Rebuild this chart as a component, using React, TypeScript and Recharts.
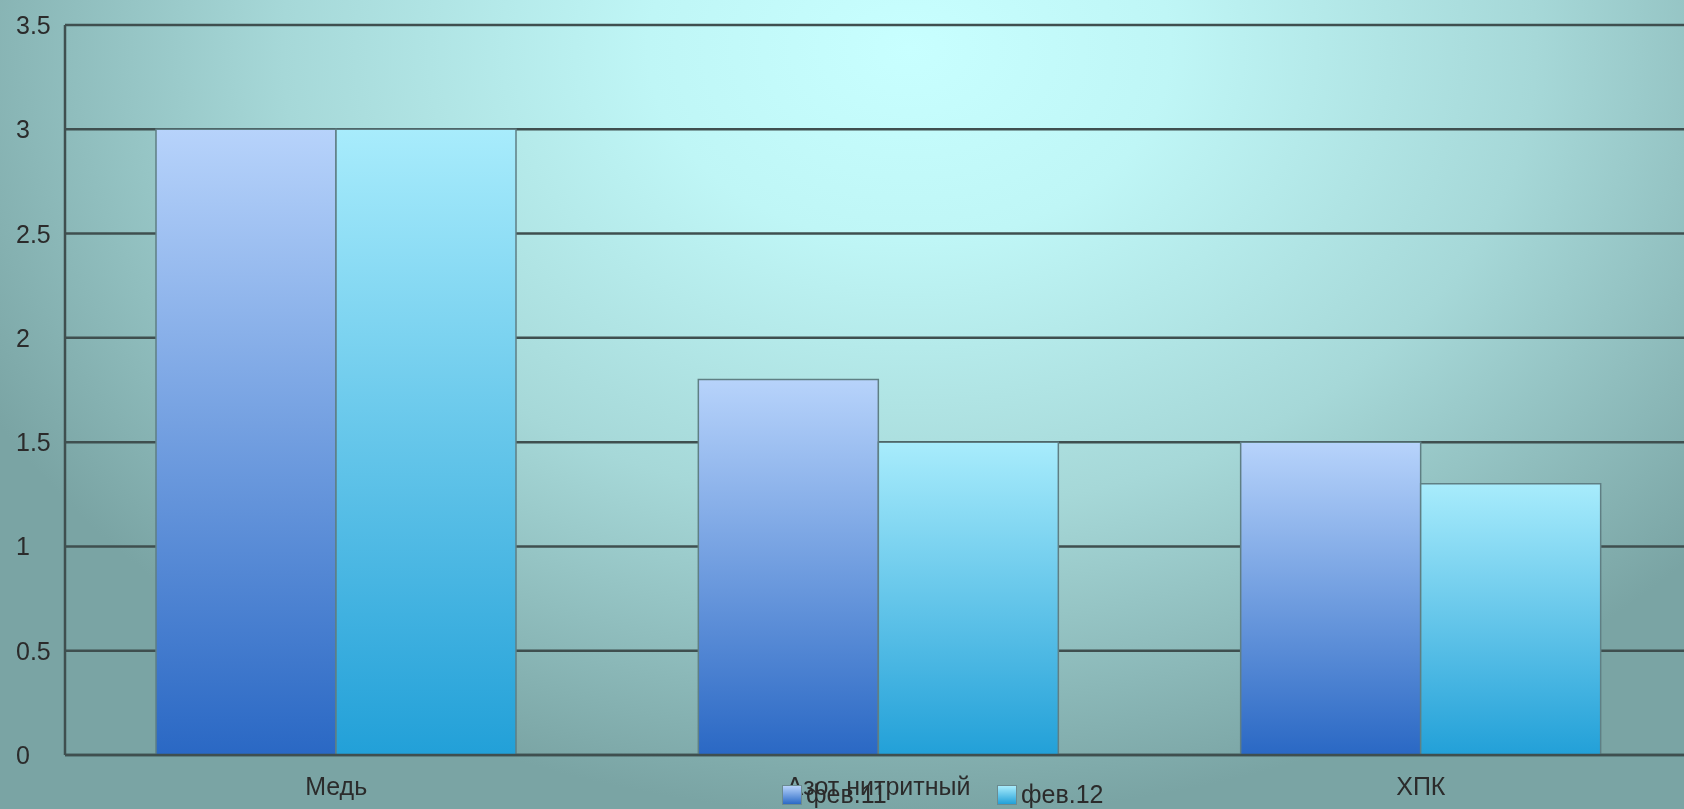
import React from 'react';
import { BarChart, Bar, XAxis, YAxis, CartesianGrid, Legend } from 'recharts';

const categories = ['Медь', 'Азот нитритный', 'ХПК'];
const feb11 = [3, 1.8, 1.5];
const feb12 = [3, 1.5, 1.3];
const seriesNames = ['фев.11', 'фев.12'];
const yTicks = [0, 0.5, 1, 1.5, 2, 2.5, 3, 3.5];

const data = categories.map((c, i) => ({ name: c, s1: feb11[i], s2: feb12[i] }));

const FONT = '"Liberation Sans", Arial, sans-serif';
const TEXT = '#2b2b2b';

const YTick = (props: any) => {
  const { y, payload } = props;
  return (
    <text x={16} y={y} dominantBaseline="central" textAnchor="start" fill={TEXT} fontSize={25} fontFamily={FONT}>
      {payload.value}
    </text>
  );
};

const XTick = (props: any) => {
  const { x, payload } = props;
  return (
    <text x={x} y={786} dominantBaseline="central" textAnchor="middle" fill={TEXT} fontSize={25} fontFamily={FONT}>
      {payload.value}
    </text>
  );
};

const LegendContent = () => (
  <div style={{ display: 'flex', alignItems: 'center', fontFamily: FONT, fontSize: 25, color: TEXT }}>
    {seriesNames.map((n, i) => (
      <div key={n} style={{ display: 'flex', alignItems: 'center', width: i === 0 ? 215 : 'auto' }}>
        <div
          style={{
            width: 18,
            height: 18,
            marginRight: 4,
            border: '1px solid #6b8b90',
            background: i === 0 ? 'linear-gradient(#b7d3fb, #2b6ac6)' : 'linear-gradient(#a8ecfc, #22a0d8)',
          }}
        />
        <span>{n}</span>
      </div>
    ))}
  </div>
);

export default function App() {
  return (
    <div
      style={{
        position: 'fixed',
        left: 0,
        top: 0,
        width: 1684,
        height: 809,
        overflow: 'hidden',
        background:
          'radial-gradient(ellipse 62% 95% at 54% 6%, #c8ffff 0%, #bff6f6 25%, #a6d8d8 60%, #7aa4a4 100%)',
      }}
    >
      <BarChart
        width={1692}
        height={809}
        data={data}
        margin={{ top: 25, right: 0, left: 0, bottom: 0 }}
        barGap={0}
        barCategoryGap={91}
      >
        <defs>
          <linearGradient id="g1" x1="0" y1="0" x2="0" y2="1">
            <stop offset="0%" stopColor="#b7d3fb" />
            <stop offset="100%" stopColor="#2a68c4" />
          </linearGradient>
          <linearGradient id="g2" x1="0" y1="0" x2="0" y2="1">
            <stop offset="0%" stopColor="#a8ecfc" />
            <stop offset="100%" stopColor="#22a0d8" />
          </linearGradient>
        </defs>
        <CartesianGrid vertical={false} stroke="#3f4f4f" strokeWidth={2.5} />
        <XAxis
          dataKey="name"
          height={54}
          tickLine={false}
          axisLine={{ stroke: '#3f4f4f', strokeWidth: 2.5 }}
          tick={<XTick />}
          interval={0}
        />
        <YAxis
          width={65}
          domain={[0, 3.5]}
          ticks={yTicks}
          tickLine={false}
          axisLine={{ stroke: '#3f4f4f', strokeWidth: 2.5 }}
          tick={<YTick />}
        />
        <Legend
          layout="horizontal"
          verticalAlign="middle"
          align="center"
          content={<LegendContent />}
          wrapperStyle={{ position: 'absolute', left: 782, top: 780, width: 'auto' }}
        />
        <Bar dataKey="s1" name={seriesNames[0]} fill="url(#g1)" stroke="#5f7f84" strokeWidth={1.5} isAnimationActive={false} />
        <Bar dataKey="s2" name={seriesNames[1]} fill="url(#g2)" stroke="#5f7f84" strokeWidth={1.5} isAnimationActive={false} />
      </BarChart>
    </div>
  );
}
